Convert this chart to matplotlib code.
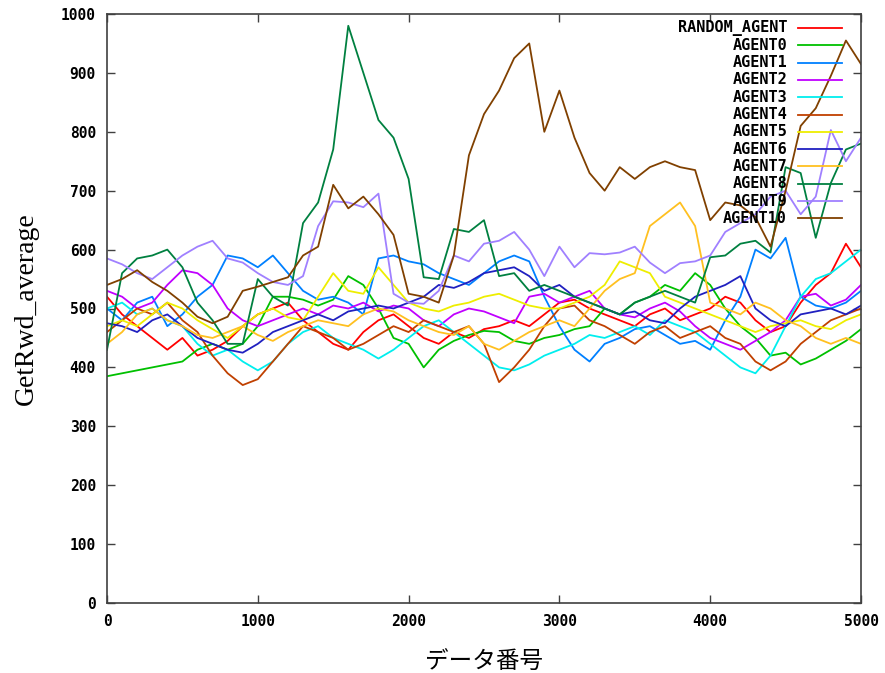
import numpy as np
import matplotlib
matplotlib.use("Agg")
import matplotlib.pyplot as plt

steps = list(range(0, 5001, 100))

series_names = ["RANDOM_AGENT", "AGENT0", "AGENT1", "AGENT2", "AGENT3", "AGENT4",
                "AGENT5", "AGENT6", "AGENT7", "AGENT8", "AGENT9", "AGENT10"]

random_agent = [520, 490, 470, 450, 430, 450, 420, 430, 445, 470, 490, 500, 510, 480, 460, 440, 430,
                460, 480, 490, 470, 450, 440, 460, 450, 465, 470, 480, 470, 490, 510, 515, 500, 490,
                480, 470, 490, 500, 480, 490, 500, 520, 510, 480, 460, 470, 510, 540, 560, 610, 570]
agent0 = [385, 390, 395, 400, 405, 410, 430, 440, 430, 440, 470, 520, 520, 515, 505, 515, 555,
          540, 500, 450, 440, 400, 430, 445, 455, 462, 460, 445, 440, 450, 455, 465, 470, 500,
          490, 510, 520, 540, 530, 560, 540, 500, 470, 450, 420, 425, 405, 415, 430, 445, 465]
agent1 = [500, 480, 510, 520, 470, 490, 520, 540, 590, 585, 570, 590, 560, 530, 515, 520, 510,
          490, 585, 590, 580, 575, 560, 550, 540, 560, 580, 590, 580, 520, 470, 430, 410, 440,
          450, 465, 470, 455, 440, 445, 430, 480, 520, 600, 585, 620, 520, 505, 500, 510, 530]
agent2 = [530, 520, 500, 510, 540, 565, 560, 540, 500, 480, 470, 480, 490, 500, 490, 505, 500,
          510, 495, 505, 500, 480, 470, 490, 500, 495, 485, 475, 520, 525, 510, 520, 530, 500,
          490, 485, 500, 510, 495, 470, 450, 440, 430, 445, 460, 480, 520, 525, 505, 515, 540]
agent3 = [500, 510, 490, 500, 480, 470, 440, 420, 430, 410, 395, 410, 440, 460, 470, 450, 440,
          430, 415, 430, 450, 470, 480, 460, 440, 420, 400, 395, 405, 420, 430, 440, 455, 450,
          460, 470, 455, 480, 470, 460, 440, 420, 400, 390, 420, 470, 520, 550, 560, 580, 600]
agent4 = [460, 480, 500, 490, 510, 480, 460, 420, 390, 370, 380, 410, 440, 470, 460, 450, 430,
          440, 455, 470, 460, 480, 470, 460, 470, 440, 375, 400, 430, 470, 500, 505, 480, 470,
          455, 440, 460, 470, 450, 460, 470, 450, 440, 410, 395, 410, 440, 460, 480, 490, 500]
agent5 = [470, 480, 470, 490, 510, 500, 480, 465, 450, 470, 490, 500, 485, 480, 520, 560, 530,
          525, 570, 540, 510, 500, 495, 505, 510, 520, 525, 515, 505, 500, 500, 510, 520, 540,
          580, 570, 560, 520, 510, 500, 490, 480, 470, 460, 470, 475, 480, 470, 465, 480, 490]
agent6 = [475, 470, 460, 480, 490, 470, 450, 440, 430, 425, 440, 460, 470, 480, 490, 480, 495,
          500, 505, 500, 510, 520, 540, 535, 545, 560, 565, 570, 555, 530, 540, 520, 510, 500,
          490, 495, 480, 475, 500, 520, 530, 540, 555, 500, 480, 470, 490, 495, 500, 490, 505]
agent7 = [440, 460, 490, 500, 480, 470, 455, 450, 460, 470, 455, 445, 460, 470, 480, 475, 470,
          490, 500, 495, 480, 470, 460, 455, 470, 440, 430, 445, 460, 470, 480, 470, 500, 530,
          550, 560, 640, 660, 680, 640, 510, 500, 490, 510, 500, 480, 470, 450, 440, 450, 440]
agent8 = [430, 560, 585, 590, 600, 570, 510, 480, 440, 440, 550, 520, 505, 645, 680, 770, 980,
          900, 820, 790, 720, 553, 550, 635, 630, 650, 555, 560, 530, 540, 530, 520, 510, 500,
          490, 510, 520, 530, 520, 510, 587, 590, 610, 615, 595, 740, 730, 620, 713, 770, 780]
agent9 = [585, 575, 560, 550, 570, 590, 605, 615, 585, 578, 560, 545, 540, 555, 640, 682, 680,
          672, 695, 525, 510, 508, 530, 590, 580, 610, 615, 630, 600, 555, 605, 570, 594, 592,
          595, 605, 578, 560, 577, 580, 590, 630, 645, 660, 690, 700, 660, 690, 803, 750, 790]
agent10 = [540, 550, 565, 545, 530, 510, 486, 475, 486, 530, 537, 545, 553, 590, 605, 710, 670,
           690, 660, 625, 525, 520, 510, 590, 760, 830, 870, 925, 950, 800, 870, 790, 730, 700,
           740, 720, 740, 750, 740, 735, 650, 680, 675, 655, 605, 700, 810, 840, 895, 955, 915]

all_series = [random_agent, agent0, agent1, agent2, agent3, agent4,
              agent5, agent6, agent7, agent8, agent9, agent10]
colors = ["#ff0000", "#00c000", "#0080ff", "#c000ff", "#00eeee", "#c04000",
          "#eeee00", "#2020c0", "#ffc020", "#008040", "#a080ff", "#804000"]

xticks = [0, 1000, 2000, 3000, 4000, 5000]
yticks = [0, 100, 200, 300, 400, 500, 600, 700, 800, 900, 1000]

fig = plt.figure(figsize=(8.85, 6.73), dpi=100)
ax = fig.add_axes([107/885, 1-603/673, 754/885, 589/673])

for vals, c in zip(all_series, colors):
    ax.plot(steps, vals, color=c, lw=1.3)

ax.set_xlim(0, 5000)
ax.set_ylim(0, 1000)
ax.set_xticks(xticks)
ax.set_yticks(yticks)
tick_font = dict(family="DejaVu Sans Mono", weight="bold", size=10.5)
ax.set_xticklabels([str(t) for t in xticks], fontdict=tick_font)
ax.set_yticklabels([str(t) for t in yticks], fontdict=tick_font)
ax.tick_params(direction="in", length=6, width=1, top=True, right=True,
               color="#404040", pad=8)
for s in ax.spines.values():
    s.set_color("#404040")
    s.set_linewidth(1.2)

ax.set_ylabel("GetRwd_average", family=["Liberation Serif", "DejaVu Serif"], size=20, labelpad=16)
ax.set_xlabel("データ番号", family=["Noto Sans CJK JP", "DejaVu Sans"], size=17, labelpad=16)

# gnuplot-style key (right-aligned text, sample line to the right)
y0 = (603 - 28) / 589
dy = 17.3 / 589
for i, (name, c) in enumerate(zip(series_names, colors)):
    yy = y0 - i * dy
    ax.text(0.902, yy, name, transform=ax.transAxes, ha="right", va="center",
            family="DejaVu Sans Mono", weight="bold", size=11, color="black")
    ax.plot([0.916, 0.975], [yy, yy], transform=ax.transAxes, color=c, lw=1.3)

fig.savefig("out.png", dpi=100)
